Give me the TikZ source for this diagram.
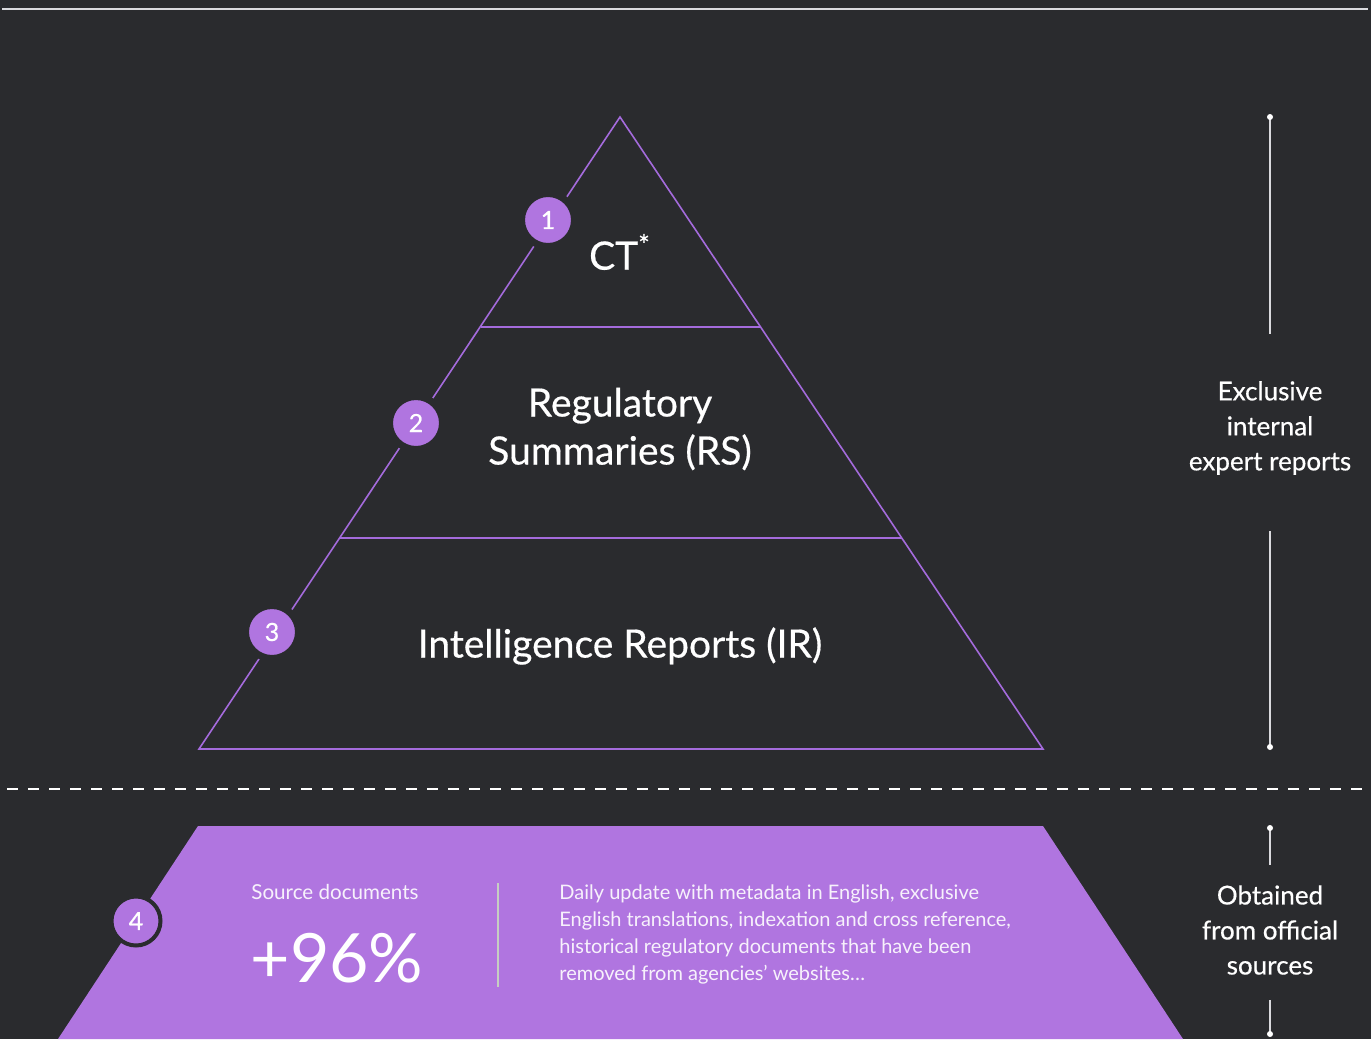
\documentclass[tikz,border=0pt]{standalone}
\usepackage{fontspec}
\setmainfont{Lato}
\newfontfamily\medfont[FakeBold=0.5]{Lato}
\usetikzlibrary{positioning}

\definecolor{bgdark}{HTML}{2A2B2E}
\definecolor{lavender}{HTML}{B075E0}
\definecolor{edgeline}{HTML}{A46BDC}
\definecolor{rulegray}{HTML}{DADADE}
\definecolor{sepgray}{HTML}{C6CEC2}

\tikzset{
    badge/.style={circle, fill=lavender, draw=bgdark, line width=3.5pt,
        minimum size=26.5pt, inner sep=0pt, text=white,
        font=\medfont\fontsize{12.5}{13}\selectfont},
    tiertext/.style={text=white, align=center, inner sep=0pt,
        font=\medfont\fontsize{19.5}{24}\selectfont},
    sidetext/.style={text=white, align=center, inner sep=0pt,
        font=\medfont\fontsize{13}{17.5}\selectfont},
    sideline/.style={draw=rulegray, line width=0.8pt},
    enddot/.style={fill=white},
    srctext/.style={text=white, opacity=0.9, align=left, inner sep=0pt,
        font=\fontsize{10}{13.5}\selectfont}
}

\begin{document}
\begin{tikzpicture}[x=0.5pt, y=-0.5pt]
    % background
    \path[fill=bgdark] (0,0) rectangle (1371,1039);
    \useasboundingbox (0,0) rectangle (1371,1039);

    % top rule
    \path[draw, rulegray, line width=1pt] (2,9) -- (1368,9);

    % pyramid outline
    \coordinate (apex) at (620,117);
    \coordinate (baseL) at (199,749);
    \coordinate (baseR) at (1043,749);
    \path[draw, edgeline, line width=0.8pt] (apex) -- (baseR) -- (baseL) -- cycle;
    % tier dividers
    \path[draw, edgeline, line width=0.8pt] (481,327) -- (761,327);
    \path[draw, edgeline, line width=0.8pt] (340,538) -- (902,538);

    % tier labels
    \node[tiertext] (ct) at (620,252) {CT\textsuperscript{*}};
    \node[tiertext] (rs) at (620,429) {Regulatory\\Summaries (RS)};
    \node[tiertext] (ir) at (620,646) {Intelligence Reports (IR)};

    % tier badges
    \node[badge] (b1) at (548,220) {1};
    \node[badge] (b2) at (416,423) {2};
    \node[badge] (b3) at (272,632) {3};

    % split line
    \path[draw, white, line width=0.75pt, dash pattern=on 5.5pt off 5pt] (7,789) -- (1371,789);

    % source layer
    \path[fill=lavender] (198,826) -- (1043,826) -- (1183,1039) -- (58,1039) -- cycle;
    \node[badge, line width=2pt, minimum size=24.5pt] (b4) at (136,921) {4};
    \node[srctext, font=\fontsize{10.3}{13.5}\selectfont] (src) at (335,892) {Source documents};
    \node[text=white, inner sep=0pt, font=\fontsize{34}{34}\selectfont] (pct) at (337,958) {+96\%};
    \path[draw, sepgray, line width=0.6pt] (498,883) -- (498,987);
    \node[srctext, anchor=north west] (note) at (559,884)
        {Daily update with metadata in English, exclusive\\
         English translations, indexation and cross reference,\\
         historical regulatory documents that have been\\
         removed from agencies’ websites…};

    % side notes
    \node[sidetext] (excl) at (1270,428) {Exclusive\\internal\\expert reports};
    \coordinate (exclTop) at (1270,117);
    \coordinate (exclA) at (1270,334);
    \coordinate (exclB) at (1270,531);
    \coordinate (exclBot) at (1270,747);
    \draw[sideline] (exclTop) -- (exclA);
    \draw[sideline] (exclB) -- (exclBot);
    \fill[enddot] (exclTop) circle (1.5pt);
    \fill[enddot] (exclBot) circle (1.5pt);

    \node[sidetext] (offi) at (1270,930) {Obtained\\from official\\sources};
    \coordinate (offiTop) at (1270,828);
    \coordinate (offiA) at (1270,865);
    \coordinate (offiB) at (1270,1000);
    \coordinate (offiBot) at (1270,1034);
    \draw[sideline] (offiTop) -- (offiA);
    \draw[sideline] (offiB) -- (offiBot);
    \fill[enddot] (offiTop) circle (1.5pt);
    \fill[enddot] (offiBot) circle (1.5pt);
\end{tikzpicture}
\end{document}
